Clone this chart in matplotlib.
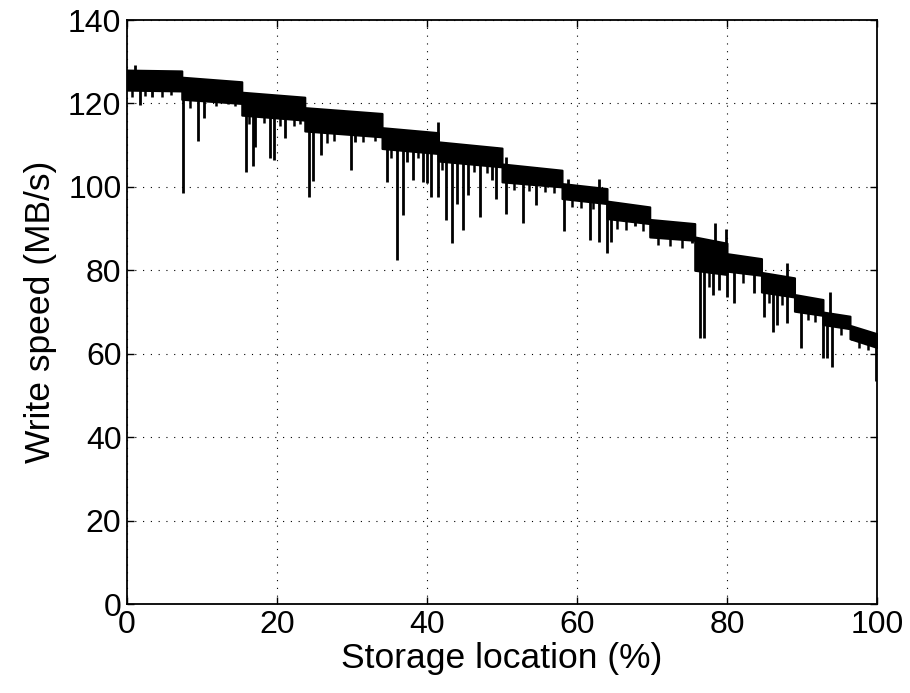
import numpy as np
import matplotlib
matplotlib.use("Agg")
import matplotlib.pyplot as plt

plt.rcParams['font.family'] = ['Liberation Sans', 'DejaVu Sans']

# zone boundaries (%) and band levels (MB/s) at start / end of each zone
zone_edges = [0, 7.3, 15.3, 23.7, 34.0, 41.5, 50.0, 58.0, 64.0, 69.7,
              75.7, 80.0, 84.6, 89.0, 92.8, 96.4, 100]
top_start = [128.0, 126.3, 122.7, 119.0, 114.2, 110.8, 105.5, 100.8, 96.6,
             92.2, 88.0, 84.0, 79.5, 74.2, 70.0, 66.8]
top_end = [127.8, 125.2, 121.5, 117.6, 113.0, 109.3, 104.0, 99.6, 95.2,
           91.2, 86.5, 82.8, 78.2, 73.0, 69.0, 64.8]
bottom_start = [123.2, 121.0, 117.2, 113.4, 109.2, 106.2, 101.2, 97.2, 92.4,
                88.0, 80.0, 79.8, 74.8, 70.2, 67.0, 63.6]
bottom_end = [123.0, 120.0, 116.0, 112.0, 108.0, 104.8, 100.0, 96.0, 91.2,
              87.2, 79.0, 78.8, 73.6, 69.2, 66.0, 61.5]

# downward dips: location (%), minimum speed (MB/s)
dip_x = [1.7, 3.3, 7.5, 9.5, 10.3, 15.9, 16.8, 17.0, 19.0, 19.6, 21.0, 24.3,
         24.8, 25.8, 29.9, 30.4, 34.7, 36.0, 36.8, 37.3, 38.1, 39.5, 40.0,
         40.5, 41.4, 42.5, 43.3, 44.0, 44.8, 45.5, 47.0, 48.7, 49.2, 50.5,
         52.8, 54.5, 58.3, 61.7, 63.0, 64.0, 64.5, 67.7, 75.3, 76.4, 77.0,
         78.2, 79.0, 80.0, 81.0, 83.6, 84.9, 86.2, 86.7, 88.0, 89.9, 92.8,
         93.3, 94.0, 96.7, 99.9]
dip_y = [119.6, 121.5, 98.5, 111.0, 116.5, 103.6, 105.0, 109.6, 107.0, 106.4,
         111.7, 97.6, 101.4, 107.6, 104.0, 110.8, 101.2, 82.5, 93.3, 106.0,
         101.6, 101.2, 101.0, 97.6, 97.6, 92.0, 86.5, 96.0, 89.7, 98.0, 92.8,
         101.6, 97.0, 93.5, 91.3, 95.7, 89.4, 87.3, 86.8, 84.2, 86.8, 90.6,
         86.5, 63.8, 63.8, 74.0, 75.3, 73.6, 72.2, 74.5, 68.8, 65.2, 67.0,
         67.4, 61.4, 59.0, 59.0, 56.8, 63.3, 53.5]

# short notches just under the band
notch_x = [0.6, 2.4, 4.6, 5.8, 8.4, 11.8, 13.4, 14.4, 16.2, 18.3, 20.4, 22.2,
           23.0, 26.6, 27.6, 31.4, 33.0, 35.2, 38.8, 42.0, 46.2, 48.0, 51.6,
           53.6, 55.8, 57.0, 59.4, 60.6, 62.2, 65.4, 66.6, 68.8, 70.8, 72.4,
           74.0, 77.6, 82.2, 85.6, 87.4, 90.8, 91.8, 95.2, 97.6, 98.8]
notch_y = [121.5, 121.8, 121.6, 122.0, 119.0, 119.5, 119.8, 119.4, 115.0,
           115.2, 114.6, 114.5, 115.0, 110.6, 111.0, 110.8, 111.0, 107.0, 107.0,
           104.0, 103.6, 103.4, 99.2, 99.0, 98.8, 98.6, 95.2, 95.0, 94.8, 90.0,
           89.6, 89.4, 86.0, 85.8, 85.4, 76.0, 77.0, 72.2, 71.6, 68.0, 67.6,
           64.6, 61.4, 60.8]

# upward spikes: location (%), peak speed (MB/s)
spike_x = [1.0, 41.4, 50.5, 58.8, 62.9, 78.4, 79.9, 88.0, 93.7]
spike_y = [129.2, 115.6, 107.2, 102.0, 102.0, 91.3, 90.0, 81.7, 74.8]

fig = plt.figure(figsize=(9.10, 6.93), dpi=100)
ax = fig.add_axes([0.1396, 0.1284, 0.8241, 0.8427])

# band of the trace: each zone runs from its start level to its end level
bx, btop, bbot = [], [], []
for i in range(len(top_start)):
    bx += [zone_edges[i], zone_edges[i + 1]]
    btop += [top_start[i], top_end[i]]
    bbot += [bottom_start[i], bottom_end[i]]
ax.fill_between(bx, bbot, btop, color='black', lw=1.5, edgecolor='black')


def band_level(x, start, end):
    x = np.asarray(x, dtype=float)
    i = np.clip(np.searchsorted(zone_edges, x, side='right') - 1, 0, len(start) - 1)
    e0 = np.array(zone_edges)[i]
    e1 = np.array(zone_edges)[i + 1]
    f = (x - e0) / (e1 - e0)
    return np.array(start)[i] + f * (np.array(end)[i] - np.array(start)[i])


# dips reach down from the band, spikes reach up from it
ax.vlines(dip_x, dip_y, band_level(dip_x, top_start, top_end), color='black', lw=2.0)
ax.vlines(notch_x, notch_y, band_level(notch_x, top_start, top_end), color='black', lw=1.8)
ax.vlines(spike_x, band_level(spike_x, bottom_start, bottom_end), spike_y,
          color='black', lw=2.0)

ax.set_xlim(0, 100)
ax.set_ylim(0, 140)
ax.set_xticks(np.arange(0, 101, 20))
ax.set_yticks(np.arange(0, 141, 20))
ax.grid(True, color='black', linestyle=(0, (1, 6)), lw=0.8)
ax.tick_params(direction='in', top=True, right=True, length=5, width=1,
               labelsize=23, pad=4)
for s in ax.spines.values():
    s.set_linewidth(1.3)
ax.set_xlabel('Storage location (%)', fontsize=25.5, labelpad=2)
ax.set_ylabel('Write speed (MB/s)', fontsize=25.5, labelpad=8)

fig.savefig('out.png', dpi=100)
